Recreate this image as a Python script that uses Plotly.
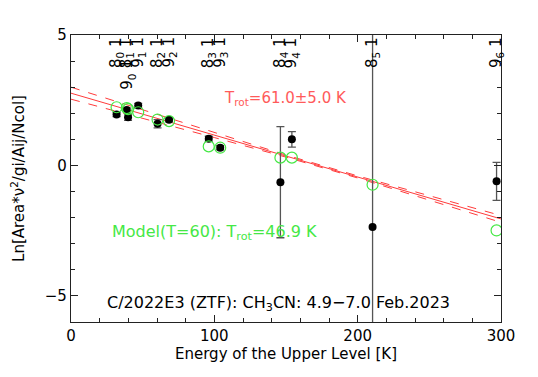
import plotly.graph_objects as go

# transitions (CH3CN J_K lines), upper level energy [K]
line_labels = ["8<sub>0</sub> 1", "8<sub>1</sub> 1", "9<sub>0</sub> 1", "9<sub>1</sub> 1",
               "8<sub>2</sub> 1", "9<sub>2</sub> 1", "8<sub>3</sub> 1", "9<sub>3</sub> 1",
               "8<sub>4</sub> 1", "9<sub>4</sub> 1", "8<sub>5</sub> 1", "9<sub>6</sub> 1"]
energy = [31.8, 38.9, 39.8, 46.9, 60.4, 68.4, 96.1, 104.1, 146.1, 154.1, 210.4, 296.9]
observed = [1.95, 2.13, 1.85, 2.30, 1.60, 1.75, 1.02, 0.68, -0.64, 1.00, -2.36, -0.61]
obs_err = [0.08, 0.08, 0.12, 0.08, 0.16, 0.08, 0.10, 0.08, 2.13, 0.30, 12.0, 0.73]
model = [2.23, 2.20, 2.16, 2.04, 1.76, 1.70, 0.73, 0.68, 0.30, 0.30, -0.74, -2.49]

# rotational diagram fit and its uncertainty envelope
fit_e = [0, 50, 100, 150, 200, 250, 300]
fit_y = [2.77, 1.97, 1.16, 0.36, -0.44, -1.25, -2.05]
fit_hi = [3.00, 2.13, 1.25, 0.40, -0.40, -1.17, -1.92]
fit_lo = [2.54, 1.81, 1.07, 0.32, -0.48, -1.33, -2.18]

FONT = "DejaVu Sans"
RED = "#ff3b3b"
GREEN = "#45e845"

fig = go.Figure()

fig.add_trace(go.Scatter(x=fit_e, y=fit_hi, mode="lines",
                         line=dict(color=RED, width=1, dash="dash")))
fig.add_trace(go.Scatter(x=fit_e, y=fit_lo, mode="lines",
                         line=dict(color=RED, width=1, dash="dash")))
fig.add_trace(go.Scatter(x=fit_e, y=fit_y, mode="lines",
                         line=dict(color=RED, width=1)))

fig.add_trace(go.Scatter(
    x=energy, y=observed, mode="markers",
    marker=dict(color="black", size=8),
    error_y=dict(type="data", array=obs_err, color="#555555", thickness=1.3, width=4),
))
fig.add_trace(go.Scatter(
    x=energy, y=model, mode="markers",
    marker=dict(symbol="circle-open", color=GREEN, size=11, line=dict(width=1.2)),
))

# line identifiers along the top
for lab, e in zip(line_labels, energy):
    lower = lab.startswith("9<sub>0")
    fig.add_annotation(x=e, y=4.15 if lower else 5, yref="y", text=lab, textangle=-90,
                       showarrow=False, xanchor="center", yanchor="top",
                       font=dict(family=FONT, size=15, color="black"))

fig.add_annotation(x=105, y=2.57, text="T<sub>rot</sub>=61.0±5.0 K", showarrow=False,
                   xanchor="left", yanchor="middle", font=dict(family=FONT, size=15, color="#ff5a5a"))
fig.add_annotation(x=27, y=-2.57, text="Model(T=60): T<sub>rot</sub>=46.9 K", showarrow=False,
                   xanchor="left", yanchor="middle", font=dict(family=FONT, size=16, color=GREEN))
fig.add_annotation(x=23.5, y=-5.3, text="C/2022E3 (ZTF): CH<sub>3</sub>CN: 4.9\u22127.0 Feb.2023",
                   showarrow=False, xanchor="left", yanchor="middle",
                   font=dict(family=FONT, size=16, color="black"))

axis_common = dict(showgrid=False, zeroline=False, showline=True, linecolor="#222222",
                   linewidth=1.3, mirror="allticks", ticks="inside", ticklen=7,
                   tickcolor="#222222", automargin=False,
                   tickfont=dict(family=FONT, size=15, color="black"))

fig.update_xaxes(range=[0, 300], dtick=100, tick0=0,
                 minor=dict(dtick=20, ticks="inside", ticklen=4, tickcolor="#222222"),
                 title=dict(text="Energy of the Upper Level [K]", standoff=4,
                            font=dict(family=FONT, size=15, color="black")),
                 **axis_common)
fig.update_yaxes(range=[-6, 5], dtick=5, tick0=0,
                 minor=dict(dtick=1, ticks="inside", ticklen=4, tickcolor="#222222"),
                 title=dict(text="Ln[Area*\u03bd<sup>2</sup>/gi/Aij/Ncol]", standoff=20,
                            font=dict(family=FONT, size=15, color="black")),
                 **axis_common)

# the page body adds an 8px offset, so margins are shifted to compensate
fig.update_layout(width=538, height=377, showlegend=False,
                  margin=dict(l=63, r=45, t=27, b=63),
                  plot_bgcolor="white", paper_bgcolor="white")

fig.write_html("out.html")
